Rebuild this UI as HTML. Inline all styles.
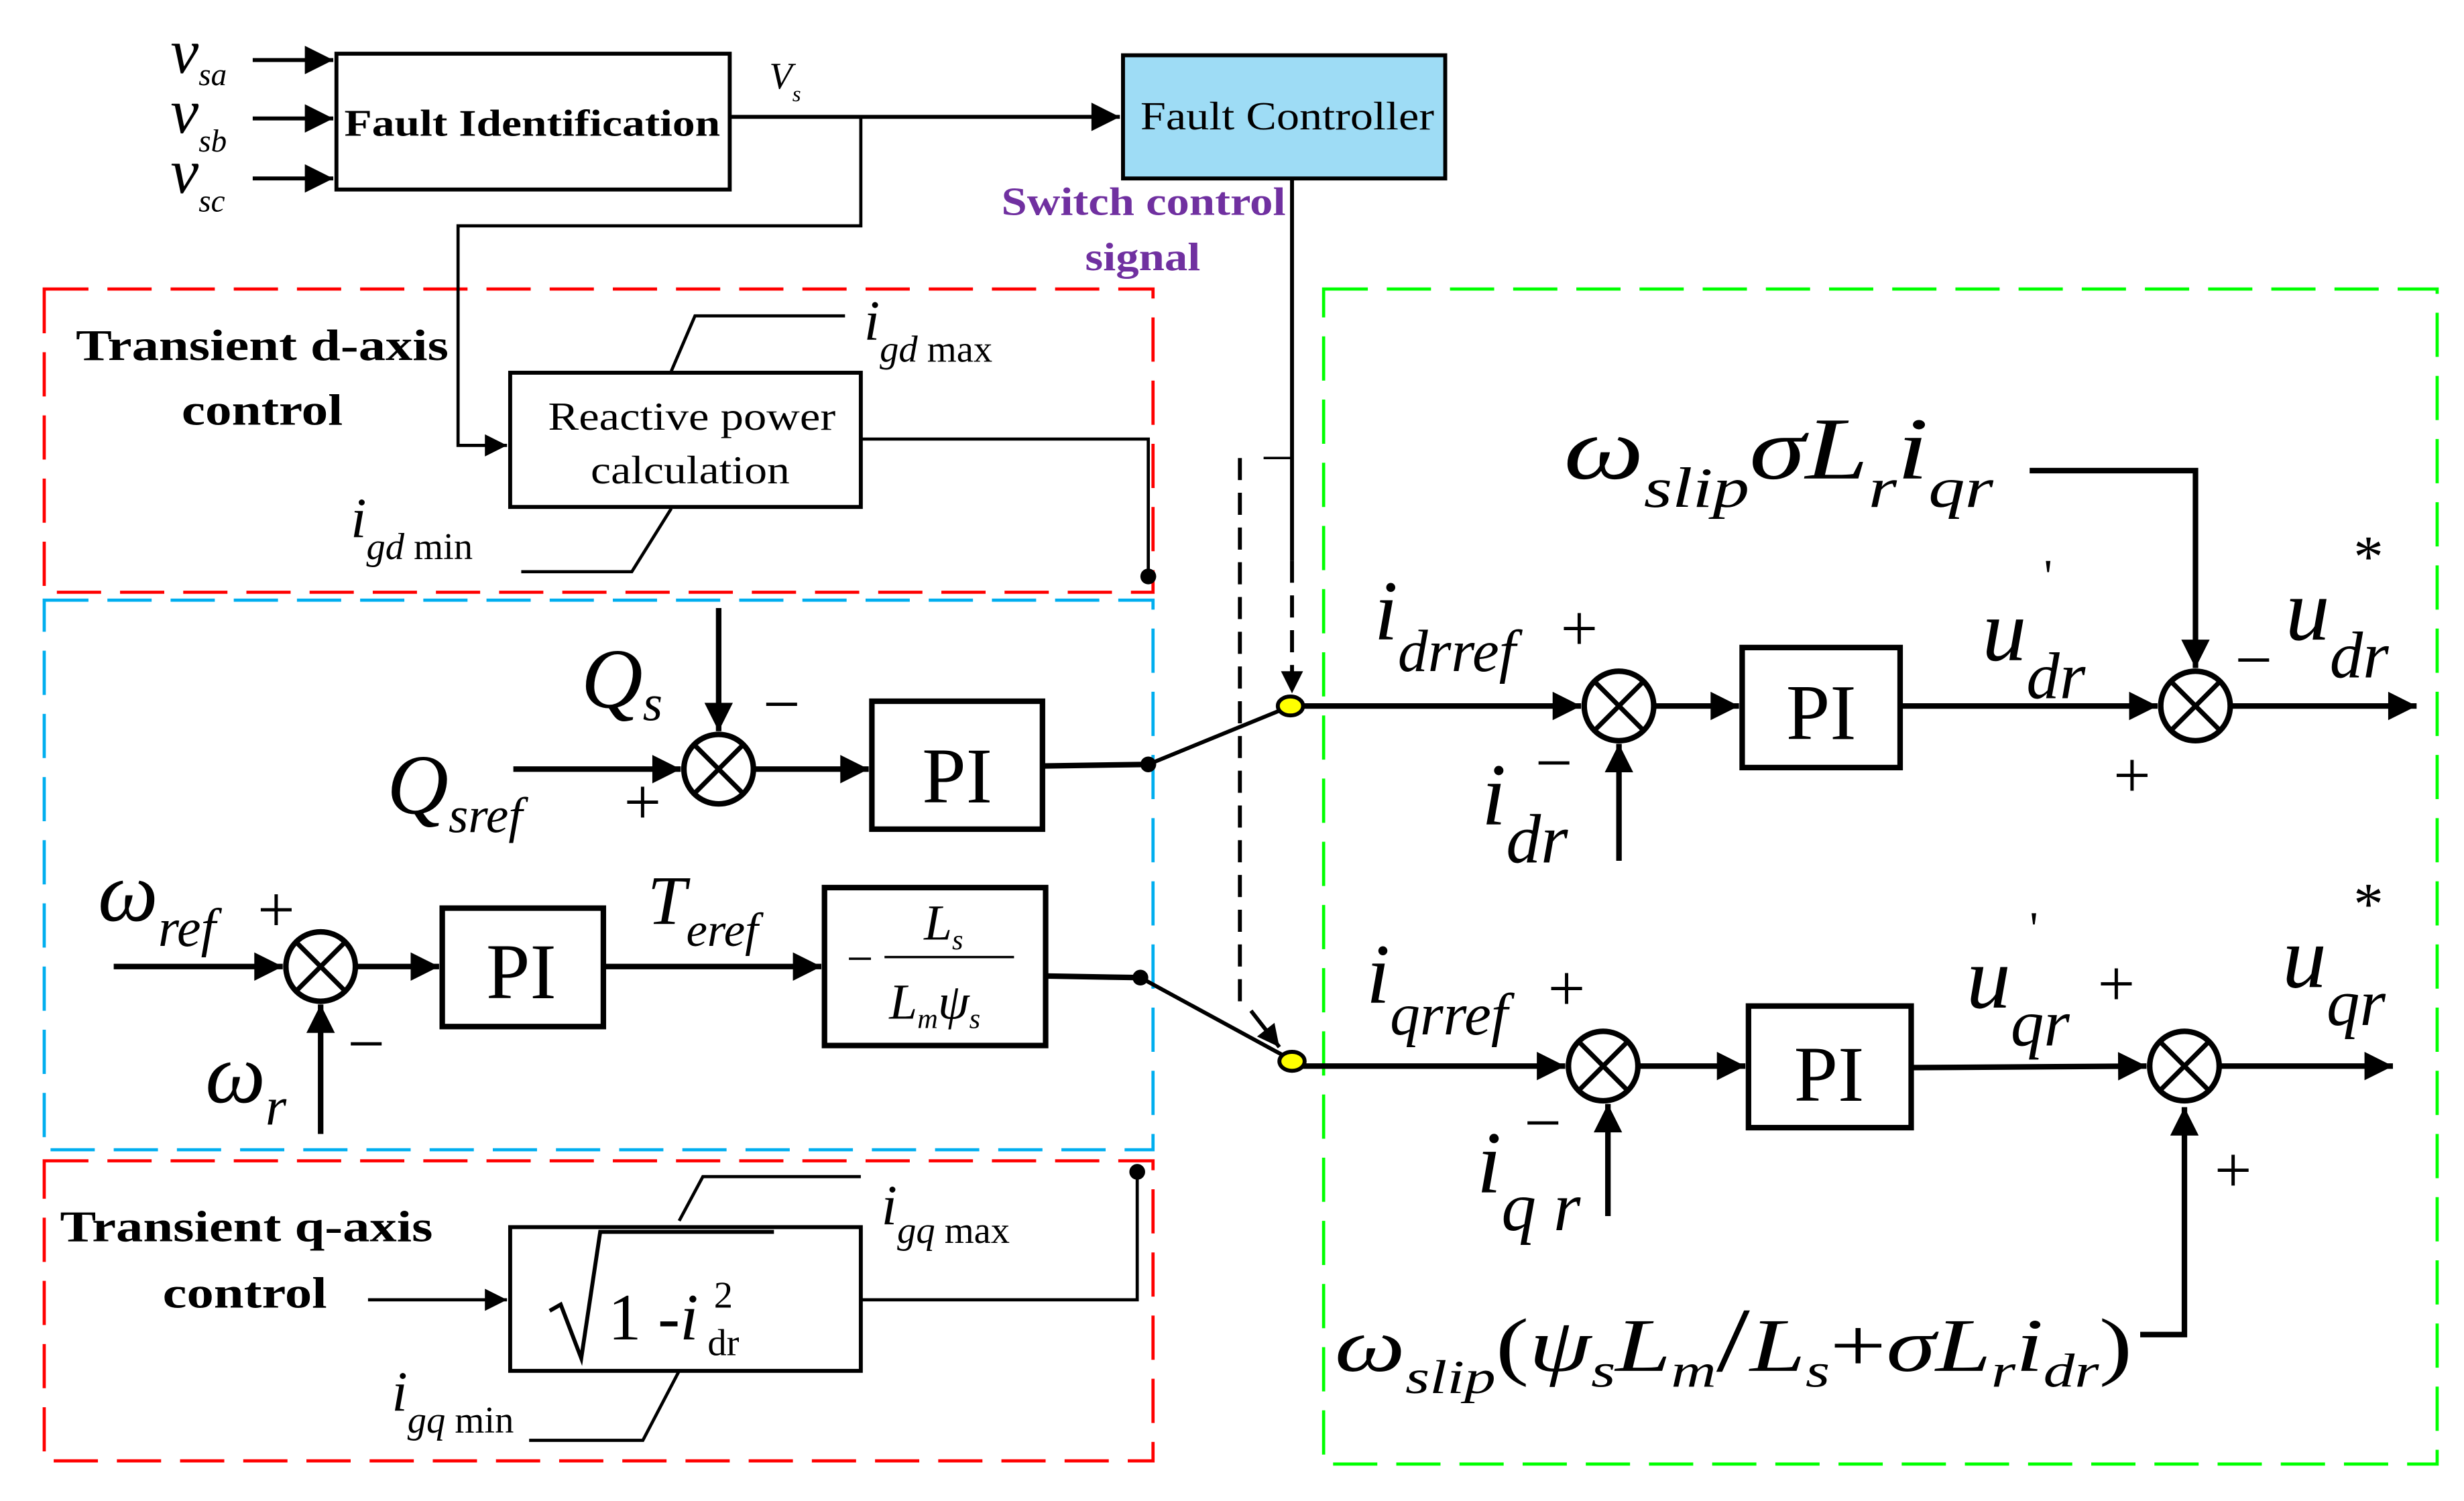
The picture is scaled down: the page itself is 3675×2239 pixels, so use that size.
<!DOCTYPE html>
<html><head><meta charset="utf-8"><style>
html,body{margin:0;padding:0;background:#fff;}
svg{display:block;}
text{font-family:"Liberation Serif",serif;}
.m{font-style:italic;}
</style></head><body>
<svg width="3675" height="2239" viewBox="0 0 1560 950.4" preserveAspectRatio="none" xmlns="http://www.w3.org/2000/svg">
<defs>
<marker id="a" viewBox="0 0 10 10" refX="10" refY="5" markerWidth="22" markerHeight="18" orient="auto" markerUnits="userSpaceOnUse"><path d="M0,0 L10,5 L0,10z" fill="#000"/></marker>
<marker id="b" viewBox="0 0 10 10" refX="10" refY="5" markerWidth="22" markerHeight="18" orient="auto" markerUnits="userSpaceOnUse"><path d="M0,0 L10,5 L0,10z" fill="#000"/></marker>
<marker id="c" viewBox="0 0 10 10" refX="10" refY="5" markerWidth="16" markerHeight="14" orient="auto" markerUnits="userSpaceOnUse"><path d="M0,0 L10,5 L0,10z" fill="#000"/></marker>
</defs>
<g fill="none" stroke-width="2">
<rect x="28" y="183" width="702" height="192" stroke="#f00" stroke-dasharray="28,12"/>
<rect x="28" y="735" width="702" height="190" stroke="#f00" stroke-dasharray="28,12"/>
<rect x="28" y="380" width="702" height="348" stroke="#00aeef" stroke-dasharray="28,12"/>
<rect x="838" y="183" width="705" height="744" stroke="#00ff00" stroke-dasharray="28,12"/>
</g>
<g stroke="#000" fill="none" stroke-width="2.5">
<rect x="213" y="34" width="249" height="86"/>
<rect x="711" y="35" width="204" height="78" fill="#9edcf5"/>
<line x1="160" y1="38" x2="211" y2="38" marker-end="url(#b)"/>
<line x1="160" y1="75" x2="211" y2="75" marker-end="url(#b)"/>
<line x1="160" y1="113" x2="211" y2="113" marker-end="url(#b)"/>
<line x1="462" y1="74" x2="709" y2="74" marker-end="url(#b)"/>
<polyline points="545,74 545,143 290,143 290,282 321,282" marker-end="url(#c)" stroke-width="2"/>
<polyline points="818,113 818,355"/>
<line x1="818" y1="355" x2="818" y2="439" stroke-dasharray="14,8" marker-end="url(#c)"/>
<line x1="800" y1="290" x2="818" y2="290" stroke-width="1.5"/>
<line x1="785" y1="290" x2="785" y2="640" stroke-dasharray="14,8"/>
<line x1="792" y1="640" x2="810" y2="663" marker-end="url(#c)"/>
<rect x="323" y="236" width="222" height="85"/>
<polyline points="425,235 440,200 535,200" stroke-width="2"/>
<polyline points="330,362 400,362 425,322" stroke-width="2"/>
<polyline points="545,278 727,278 727,365" stroke-width="2"/>
<rect x="323" y="777" width="222" height="91"/>
<line x1="233" y1="823" x2="321" y2="823" stroke-width="2" marker-end="url(#c)"/>
<polyline points="430,773 445,745 545,745" stroke-width="2"/>
<polyline points="335,912 407,912 430,868" stroke-width="2"/>
<polyline points="545,823 720,823 720,742" stroke-width="2"/>
<line x1="455" y1="385" x2="455" y2="463" stroke-width="3.5" marker-end="url(#a)"/>
<circle cx="455" cy="487" r="22" stroke-width="3.5"/>
<line x1="325" y1="487" x2="431" y2="487" stroke-width="3.5" marker-end="url(#a)"/>
<line x1="478" y1="487" x2="550" y2="487" stroke-width="3.5" marker-end="url(#a)"/>
<rect x="552" y="444" width="108" height="81" stroke-width="3.5"/>
<line x1="660" y1="485" x2="727" y2="484" stroke-width="3.5"/>
<line x1="727" y1="484" x2="810" y2="450" stroke-width="2.5"/>
<line x1="72" y1="612" x2="179" y2="612" stroke-width="3.5" marker-end="url(#a)"/>
<circle cx="203" cy="612" r="22" stroke-width="3.5"/>
<line x1="226" y1="612" x2="278" y2="612" stroke-width="3.5" marker-end="url(#a)"/>
<rect x="280" y="575" width="102" height="75" stroke-width="3.5"/>
<line x1="382" y1="612" x2="520" y2="612" stroke-width="3.5" marker-end="url(#a)"/>
<line x1="203" y1="718" x2="203" y2="636" stroke-width="3.5" marker-end="url(#a)"/>
<rect x="522" y="562" width="140" height="100" stroke-width="3.5"/>
<line x1="560" y1="606" x2="642" y2="606" stroke-width="1.5"/>
<line x1="662" y1="618" x2="722" y2="619" stroke-width="3.5"/>
<line x1="722" y1="619" x2="812" y2="668" stroke-width="2.5"/>
<line x1="825" y1="447" x2="1001" y2="447" stroke-width="3.5" marker-end="url(#a)"/>
<circle cx="1025" cy="447" r="22" stroke-width="3.5"/>
<line x1="1048" y1="447" x2="1101" y2="447" stroke-width="3.5" marker-end="url(#a)"/>
<rect x="1103" y="410" width="100" height="76" stroke-width="3.5"/>
<line x1="1203" y1="447" x2="1366" y2="447" stroke-width="3.5" marker-end="url(#a)"/>
<circle cx="1390" cy="447" r="22" stroke-width="3.5"/>
<line x1="1413" y1="447" x2="1530" y2="447" stroke-width="3.5" marker-end="url(#a)"/>
<line x1="1025" y1="545" x2="1025" y2="471" stroke-width="3.5" marker-end="url(#a)"/>
<polyline points="1285,298 1390,298 1390,423" stroke-width="3.5" marker-end="url(#a)"/>
<line x1="825" y1="675" x2="991" y2="675" stroke-width="3.5" marker-end="url(#a)"/>
<circle cx="1015" cy="675" r="22" stroke-width="3.5"/>
<line x1="1038" y1="675" x2="1105" y2="675" stroke-width="3.5" marker-end="url(#a)"/>
<rect x="1107" y="637" width="103" height="77" stroke-width="3.5"/>
<line x1="1210" y1="676" x2="1359" y2="675" stroke-width="3.5" marker-end="url(#a)"/>
<circle cx="1383" cy="675" r="22" stroke-width="3.5"/>
<line x1="1406" y1="675" x2="1515" y2="675" stroke-width="3.5" marker-end="url(#a)"/>
<line x1="1018" y1="770" x2="1018" y2="699" stroke-width="3.5" marker-end="url(#a)"/>
<polyline points="1355,845 1383,845 1383,701" stroke-width="3.5" marker-end="url(#a)"/>
<g stroke-width="3">
<path d="M439,471 L471,503 M471,471 L439,503"/>
<path d="M187,596 L219,628 M219,596 L187,628"/>
<path d="M1009,431 L1041,463 M1041,431 L1009,463"/>
<path d="M1374,431 L1406,463 M1406,431 L1374,463"/>
<path d="M999,659 L1031,691 M1031,659 L999,691"/>
<path d="M1367,659 L1399,691 M1399,659 L1367,691"/>
</g>
<polyline points="348,830 355,826 368,860 380,780 490,780" stroke-width="2.5"/>
</g>
<circle cx="727" cy="365" r="5" fill="#000"/>
<circle cx="727" cy="484" r="5" fill="#000"/>
<circle cx="722" cy="619" r="5" fill="#000"/>
<circle cx="720" cy="742" r="5" fill="#000"/>
<ellipse cx="817" cy="447" rx="8" ry="6" fill="#ff0" stroke="#000" stroke-width="2.5"/>
<ellipse cx="818" cy="672" rx="8" ry="6" fill="#ff0" stroke="#000" stroke-width="2.5"/>

<g fill="#000">
<text x="108" y="46" font-size="40" class="m">v<tspan font-size="20" dy="8">sa</tspan></text>
<text x="108" y="84" font-size="40" class="m">v<tspan font-size="20" dy="12">sb</tspan></text>
<text x="108" y="122" font-size="40" class="m">v<tspan font-size="20" dy="12">sc</tspan></text>
<text x="218" y="86" font-size="24" font-weight="bold" textLength="238" lengthAdjust="spacingAndGlyphs">Fault Identification</text>
<text x="487" y="56" font-size="24" class="m">V<tspan font-size="14" dy="8">s</tspan></text>
<text x="722" y="82" font-size="25" textLength="186" lengthAdjust="spacingAndGlyphs">Fault Controller</text>
<text x="634" y="136" font-size="25" font-weight="bold" fill="#7030a0" textLength="180" lengthAdjust="spacingAndGlyphs">Switch control</text>
<text x="687" y="171" font-size="25" font-weight="bold" fill="#7030a0" textLength="73" lengthAdjust="spacingAndGlyphs">signal</text>
<text x="48" y="228" font-size="28" font-weight="bold" textLength="236" lengthAdjust="spacingAndGlyphs">Transient d-axis</text>
<text x="115" y="269" font-size="28" font-weight="bold" textLength="102" lengthAdjust="spacingAndGlyphs">control</text>
<text x="347" y="272" font-size="25" textLength="182" lengthAdjust="spacingAndGlyphs">Reactive power</text>
<text x="374" y="306" font-size="25" textLength="126" lengthAdjust="spacingAndGlyphs">calculation</text>
<text x="547" y="215" font-size="36" class="m">i<tspan font-size="24" dy="14">gd</tspan><tspan font-style="normal" font-size="24"> max</tspan></text>
<text x="222" y="340" font-size="36" class="m">i<tspan font-size="24" dy="14">gd</tspan><tspan font-style="normal" font-size="24"> min</tspan></text>
<text x="38" y="786" font-size="28" font-weight="bold" textLength="236" lengthAdjust="spacingAndGlyphs">Transient q-axis</text>
<text x="103" y="828" font-size="28" font-weight="bold" textLength="104" lengthAdjust="spacingAndGlyphs">control</text>
<text x="385" y="848" font-size="42">1 -<tspan font-style="italic">i</tspan></text>
<text x="452" y="828" font-size="24">2</text><text x="448" y="858" font-size="24">dr</text>
<text x="558" y="775" font-size="36" class="m">i<tspan font-size="24" dy="12">gq</tspan><tspan font-style="normal" font-size="24"> max</tspan></text>
<text x="248" y="893" font-size="36" class="m">i<tspan font-size="24" dy="14">gq</tspan><tspan font-style="normal" font-size="24"> min</tspan></text>
<text x="368" y="448" font-size="54" class="m">Q<tspan font-size="32" dy="8">s</tspan></text>
<text x="483" y="460" font-size="42">−</text>
<text x="245" y="515" font-size="54" class="m">Q<tspan font-size="32" dy="12">sref</tspan></text>
<text x="395" y="522" font-size="42">+</text>
<text x="606" y="508" font-size="50" text-anchor="middle">PI</text>
<text x="62" y="583" font-size="54" class="m">ω<tspan font-size="34" dy="16">ref</tspan></text>
<text x="163" y="590" font-size="42">+</text>
<text x="330" y="632" font-size="50" text-anchor="middle">PI</text>
<text x="410" y="585" font-size="44" class="m">T<tspan font-size="30" dy="14">eref</tspan></text>
<text x="536" y="617" font-size="30">−</text>
<text x="585" y="595" font-size="32" class="m">L<tspan font-size="18" dy="6">s</tspan></text>
<text x="563" y="645" font-size="32" class="m">L<tspan font-size="18" dy="6">m</tspan><tspan dy="-6">ψ</tspan><tspan font-size="18" dy="6">s</tspan></text>
<text x="130" y="698" font-size="54" class="m">ω<tspan font-size="34" dy="14">r</tspan></text>
<text x="220" y="675" font-size="42">−</text>
<text x="990" y="303" font-size="56" class="m" textLength="272" lengthAdjust="spacingAndGlyphs">ω<tspan font-size="36" dy="18">slip</tspan><tspan dy="-18">σL</tspan><tspan font-size="36" dy="18">r</tspan><tspan dy="-18">i</tspan><tspan font-size="36" dy="18">qr</tspan></text>
<text x="870" y="405" font-size="54" class="m">i<tspan font-size="38" dy="20">drref</tspan></text>
<text x="988" y="412" font-size="42">+</text>
<text x="938" y="522" font-size="56" class="m">i<tspan font-size="44" dy="24">dr</tspan></text>
<text x="972" y="497" font-size="42">−</text>
<text x="1153" y="468" font-size="50" text-anchor="middle">PI</text>
<text x="1255" y="418" font-size="56" class="m">u<tspan font-size="42" dy="24">dr</tspan></text><text x="1294" y="375" font-size="30">'</text>
<text x="1415" y="432" font-size="42">−</text>
<text x="1447" y="405" font-size="56" class="m">u<tspan font-size="42" dy="24">dr</tspan></text><text x="1490" y="365" font-size="38">*</text>
<text x="1338" y="505" font-size="42">+</text>
<text x="865" y="635" font-size="54" class="m">i<tspan font-size="38" dy="20">qrref</tspan></text>
<text x="980" y="640" font-size="42">+</text>
<text x="935" y="755" font-size="56" class="m">i<tspan font-size="44" dy="24">q r</tspan></text>
<text x="965" y="725" font-size="42">−</text>
<text x="1158" y="697" font-size="50" text-anchor="middle">PI</text>
<text x="1245" y="638" font-size="56" class="m">u<tspan font-size="42" dy="24">qr</tspan></text><text x="1285" y="598" font-size="30">'</text>
<text x="1328" y="637" font-size="42">+</text>
<text x="1445" y="625" font-size="56" class="m">u<tspan font-size="42" dy="24">qr</tspan></text><text x="1490" y="585" font-size="38">*</text>
<text x="1402" y="755" font-size="42">+</text>
<text x="845" y="868" font-size="48" class="m" textLength="505" lengthAdjust="spacingAndGlyphs">ω<tspan font-size="30" dy="14">slip</tspan><tspan font-style="normal" dy="-14">(</tspan><tspan>ψ</tspan><tspan font-size="30" dy="10">s</tspan><tspan dy="-10">L</tspan><tspan font-size="30" dy="10">m</tspan><tspan font-style="normal" dy="-10" font-size="58">/</tspan><tspan>L</tspan><tspan font-size="30" dy="10">s</tspan><tspan font-style="normal" dy="-10">+</tspan><tspan>σL</tspan><tspan font-size="30" dy="10">r</tspan><tspan dy="-10">i</tspan><tspan font-size="30" dy="10">dr</tspan><tspan font-style="normal" dy="-10">)</tspan></text>
</g>
</svg>
</body></html>
